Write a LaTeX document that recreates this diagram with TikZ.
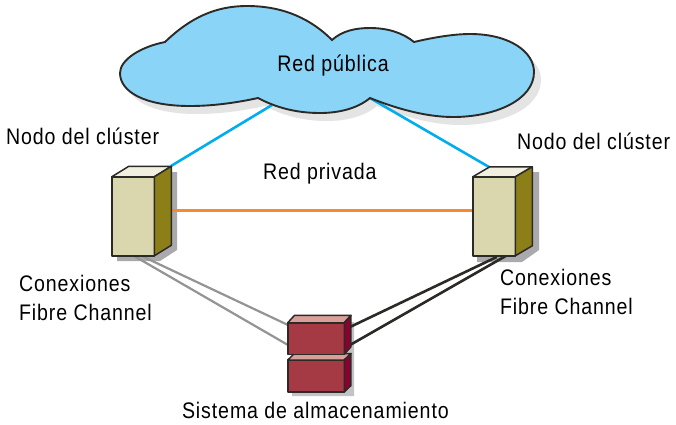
\documentclass[tikz,border=0pt]{standalone}
\usepackage{fontspec}
\setmainfont{Liberation Sans}[FakeStretch=0.87,LetterSpace=4]
\definecolor{cloudblue}{HTML}{8AD5F7}
\definecolor{linkblue}{HTML}{00AEEF}
\definecolor{linkorange}{HTML}{F58A2E}
\definecolor{shadowgrey}{HTML}{A9A9AE}
\definecolor{cloudshadow}{HTML}{E4E4E5}
\definecolor{srvfront}{HTML}{DAD6AE}
\definecolor{srvtop}{HTML}{F1EFE0}
\definecolor{srvside}{HTML}{8C7F18}
\definecolor{stfront}{HTML}{A53A45}
\definecolor{sttop}{HTML}{D9A09A}
\definecolor{stside}{HTML}{8A0030}
\definecolor{outline}{HTML}{2B2A26}
\tikzset{
  face/.style={draw=outline,line width=1.5pt,line join=round},
  frontface/.style={face,inner sep=0pt,outer sep=0pt},
  lbl/.style={font=\fontsize{22.5}{29}\selectfont,inner sep=0pt,outer sep=0pt,text=black},
  leftlbl/.style={lbl,anchor=base west,align=left},
  bluelink/.style={draw=linkblue,line width=2.6pt},
  orangelink/.style={draw=linkorange,line width=2.6pt},
  greylink/.style={draw=black!42,line width=2.2pt},
  blacklink/.style={draw=outline,line width=2.6pt},
}
\newcommand{\cloudpath}{
  (165,42) .. controls (190,18) and (215,6) .. (247,6)
  .. controls (285,6) and (312,20) .. (332,40)
  .. controls (342,31) and (355,28) .. (370,28)
  .. controls (388,28) and (403,33) .. (414,42)
  .. controls (435,37) and (455,34) .. (470,34)
  .. controls (510,34) and (534,52) .. (534,72)
  .. controls (534,100) and (495,117) .. (453,117)
  .. controls (425,117) and (395,108) .. (370,98)
  .. controls (358,108) and (340,113) .. (320,113)
  .. controls (295,113) and (275,107) .. (258,98)
  .. controls (235,103) and (212,106) .. (190,106)
  .. controls (145,106) and (120,92) .. (120,73)
  .. controls (120,60) and (140,47) .. (165,42) -- cycle}
\newcommand{\boxshape}[9]{%
  \node[frontface,fill=#8,minimum width=#4pt,minimum height=#5pt] (#1) at (#2,#3) {};
  \fill[#9,face] (#1.north west) -- ++(#6,-#7) -- ++(#4,0) -- (#1.north east) -- cycle;
  \fill[\sidecol,face] (#1.north east) -- ++(#6,-#7) -- ++(0,#5) -- (#1.south east) -- cycle;
}
\begin{document}
\begin{tikzpicture}[x=1pt,y=-1pt]
\useasboundingbox[fill=white] (0,0) rectangle (676,424);
% shadows
\fill[cloudshadow,shift={(7pt,-8pt)}] \cloudpath;
\fill[shadowgrey] (160,172) -- (177,172) -- (177,250) -- (160,261) -- (117,261) -- (117,250) -- cycle;
\fill[shadowgrey] (520,172) -- (539,172) -- (539,250) -- (522,262) -- (477,262) -- (477,250) -- cycle;
\fill[shadowgrey!70] (295,322) -- (354,322) -- (354,396) -- (292,396) -- cycle;
% named ends of connectors
\coordinate (cloudL) at (272,105);
\coordinate (cloudR) at (370,98);
\coordinate (srvLtop) at (171,166);
\coordinate (srvRtop) at (489,167);
\coordinate (srvLorange) at (172,210.5);
\coordinate (srvRorange) at (473,210.5);
\coordinate (srvLa) at (141.7,256);
\coordinate (srvLb) at (135,256.5);
\coordinate (srvRa) at (496.7,257);
\coordinate (srvRb) at (505.7,256);
\coordinate (stLa) at (288,325);
\coordinate (stLb) at (288,345);
\coordinate (stRa) at (350,327);
\coordinate (stRb) at (350,345);
% connectors
\draw[bluelink] (cloudL) -- (srvLtop);
\draw[bluelink] (cloudR) -- (srvRtop);
\draw[orangelink] (srvLorange) -- (srvRorange);
\draw[greylink] (srvLa) -- (stLa);
\draw[greylink] (srvLb) -- (stLb);
\draw[blacklink] (srvRa) -- (stRa);
\draw[blacklink] (srvRb) -- (stRb);
% cloud
\draw[fill=cloudblue,draw=outline,line width=1.9pt,line join=miter] \cloudpath;
% devices
\def\sidecol{srvside}
\boxshape{srvL}{133}{216.3}{42.5}{79}{17}{10.5}{srvfront}{srvtop}
\boxshape{srvR}{494}{216.3}{42.5}{79}{17}{10}{srvfront}{srvtop}
\def\sidecol{stside}
\boxshape{stB}{316}{376}{56.5}{32}{6.7}{6.5}{stfront}{sttop}
\boxshape{stA}{316}{338.5}{56.5}{31.5}{6.7}{7.4}{stfront}{sttop}
% labels
\node[lbl] (lcloud) at (333,65.5) {Red pública};
\node[leftlbl] (lnodeL) at (6,144) {Nodo del clúster};
\node[leftlbl] (lnodeR) at (517,149) {Nodo del clúster};
\node[leftlbl] (lpriv) at (263,179) {Red privada};
\node[leftlbl,anchor=north west] (lconnL) at (19,275) {Conexiones\\Fibre Channel};
\node[leftlbl,anchor=north west] (lconnR) at (500,269) {Conexiones\\Fibre Channel};
\node[leftlbl] (lstore) at (182,418.5) {Sistema de almacenamiento};
\end{tikzpicture}
\end{document}
